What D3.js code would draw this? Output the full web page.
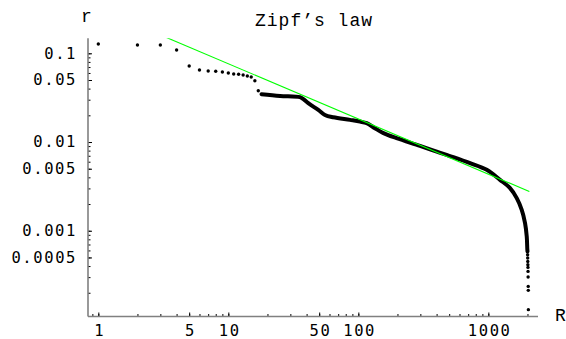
<!DOCTYPE html>
<html>
<head>
<meta charset="utf-8">
<script src="https://cdn.jsdelivr.net/npm/d3@7"></script>
<style>
  body { margin: 0; background: #fff; }
  .tick-label { font-family: "DejaVu Sans Mono", monospace; font-size: 15.5px; letter-spacing: 1.6px; fill: #000; }
  .courier { font-family: "Liberation Mono", "Courier New", monospace; font-size: 18px; letter-spacing: 1px; fill: #000; }
</style>
</head>
<body>
<div id="chart"></div>
<script>
// rank / relative frequency
const sparseRank = [1, 2, 3, 4, 5, 6, 7, 8, 9, 10, 11, 12, 13, 14, 15, 16, 17];
const sparseFreq = [0.1273, 0.124, 0.124, 0.109, 0.0719, 0.0648, 0.0632, 0.0627, 0.0616, 0.0600,
                    0.0585, 0.0580, 0.0570, 0.0555, 0.0541, 0.0491, 0.0379];

// dense part of the curve (points overlap into a thick band)
const bandRank = [18, 25, 35.6, 37.8, 41.2, 49.2, 55.4, 64.2, 86.3, 103, 116, 134, 156, 197, 298, 401,
                  538, 723, 972, 1230, 1469, 1654, 1807, 1916, 1974, 1995, 2001];
const bandFreq = [0.0346, 0.0331, 0.0320, 0.0304, 0.0274, 0.0230, 0.0202, 0.0190, 0.01776, 0.0170, 0.0163,
                  0.01432, 0.01258, 0.01105, 0.00905, 0.0078, 0.00675, 0.00578, 0.00486, 0.00375,
                  0.00302, 0.00233, 0.00172, 0.00122, 0.000863, 0.000611, 0.000585];

// separated points at the bottom of the tail
const tailRank = [2005, 2008, 2011, 2014, 2017, 2020, 2023, 2026, 2029, 2032];
const tailFreq = [0.000537, 0.000493, 0.000451, 0.000414, 0.000386, 0.000348, 0.000301,
                  0.000236, 0.000213, 0.000129];

// fitted power law, end points
const fitRank = [1, 2067];
const fitFreq = [0.319, 0.00277];

const xTickValues = [1, 5, 10, 50, 100, 1000];
const xTickLabels = ["1", "5", "10", "50", "100", "1000"];
const yTickValues = [0.1, 0.05, 0.01, 0.005, 0.001, 0.0005];
const yTickLabels = ["0.1", "0.05", "0.01", "0.005", "0.001", "0.0005"];

const WIDTH = 566, HEIGHT = 339;
const LEFT = 88, RIGHT = 538, TOP = 38.3, BOTTOM = 316.5;
const DOT_R = 1.7;

const svg = d3.select("#chart").append("svg")
    .attr("width", WIDTH)
    .attr("height", HEIGHT);

const x = d3.scaleLog().domain([0.833, 2410]).range([LEFT, RIGHT]);
const y = d3.scaleLog().domain([0.000108, 0.1476]).range([BOTTOM, TOP]);

// all 1..9 x 10^k ticks inside the domain
function logMinors(scale) {
    const [a, b] = scale.domain();
    const out = [];
    for (let k = Math.floor(Math.log10(a)); k <= Math.ceil(Math.log10(b)); k++) {
        for (let m = 1; m <= 9; m++) {
            const v = m * Math.pow(10, k);
            if (v >= a && v <= b) out.push(v);
        }
    }
    return out;
}

svg.append("defs").append("clipPath").attr("id", "plot")
    .append("rect")
    .attr("x", LEFT).attr("y", TOP)
    .attr("width", RIGHT - LEFT).attr("height", BOTTOM - TOP);

// minor ticks
svg.append("g")
    .attr("transform", `translate(${LEFT},0)`)
    .call(d3.axisLeft(y).tickValues(logMinors(y)).tickSize(-2.5).tickFormat(""))
    .call(g => g.select(".domain").remove())
    .call(g => g.selectAll("line").attr("stroke", "#000"));
svg.append("g")
    .attr("transform", `translate(0,${BOTTOM})`)
    .call(d3.axisBottom(x).tickValues(logMinors(x)).tickSize(-2.5).tickFormat(""))
    .call(g => g.select(".domain").remove())
    .call(g => g.selectAll("line").attr("stroke", "#000"));

// major ticks with labels
svg.append("g")
    .attr("transform", `translate(${LEFT},0)`)
    .call(d3.axisLeft(y).tickValues(yTickValues).tickSize(-4).tickPadding(11)
        .tickFormat((d, i) => yTickLabels[i]))
    .call(g => g.select(".domain").remove())
    .call(g => g.selectAll("line").attr("stroke", "#000"))
    .call(g => g.selectAll("text").attr("class", "tick-label").attr("font-family", null).attr("font-size", null));
svg.append("g")
    .attr("transform", `translate(0,${BOTTOM})`)
    .call(d3.axisBottom(x).tickValues(xTickValues).tickSize(-4).tickPadding(8)
        .tickFormat((d, i) => xTickLabels[i]))
    .call(g => g.select(".domain").remove())
    .call(g => g.selectAll("line").attr("stroke", "#000"))
    .call(g => g.selectAll("text").attr("class", "tick-label").attr("font-family", null).attr("font-size", null)
        .attr("dx", "0.8px"));

// axis lines
svg.append("line")
    .attr("x1", LEFT).attr("x2", LEFT).attr("y1", TOP).attr("y2", BOTTOM)
    .attr("stroke", "#808080").attr("stroke-width", 1.6);
svg.append("line")
    .attr("x1", LEFT).attr("x2", RIGHT).attr("y1", BOTTOM).attr("y2", BOTTOM)
    .attr("stroke", "#808080").attr("stroke-width", 1.6);

// axis labels and title
svg.append("text").attr("class", "courier")
    .attr("x", 87).attr("y", 22).attr("text-anchor", "middle").text("r");
svg.append("text").attr("class", "courier")
    .attr("x", 561).attr("y", 321).attr("text-anchor", "middle").text("R");
svg.append("text").attr("class", "courier")
    .attr("x", 314).attr("y", 26).attr("text-anchor", "middle").text("Zipf\u2019s law");

const plot = svg.append("g").attr("clip-path", "url(#plot)");

// dense band
const band = bandRank.map((r, i) => ({ rank: r, freq: bandFreq[i] }));
plot.append("path")
    .datum(band)
    .attr("fill", "none")
    .attr("stroke", "#000")
    .attr("stroke-width", 4)
    .attr("stroke-linejoin", "round")
    .attr("stroke-linecap", "round")
    .attr("d", d3.line().x(d => x(d.rank)).y(d => y(d.freq)).curve(d3.curveCatmullRom));

// single points
const points = sparseRank.map((r, i) => ({ rank: r, freq: sparseFreq[i] }))
    .concat(tailRank.map((r, i) => ({ rank: r, freq: tailFreq[i] })));
plot.selectAll("circle.pt")
    .data(points)
    .join("circle")
    .attr("class", "pt")
    .attr("cx", d => x(d.rank))
    .attr("cy", d => y(d.freq))
    .attr("r", DOT_R)
    .attr("fill", "#000");

// fitted line
const fit = fitRank.map((r, i) => ({ rank: r, freq: fitFreq[i] }));
plot.append("path")
    .datum(fit)
    .attr("fill", "none")
    .attr("stroke", "#00ff00")
    .attr("stroke-width", 1.1)
    .attr("d", d3.line().x(d => x(d.rank)).y(d => y(d.freq)));
</script>
</body>
</html>
